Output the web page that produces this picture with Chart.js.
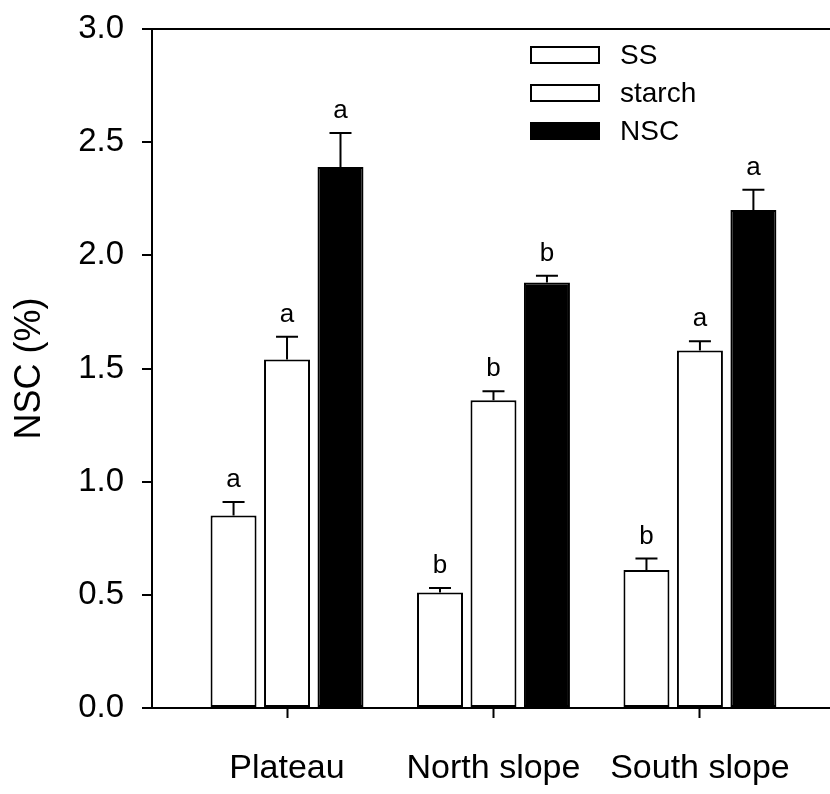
<!DOCTYPE html>
<html>
<head>
<meta charset="utf-8">
<script src="https://cdn.jsdelivr.net/npm/chart.js@4"></script>
<style>
  body { margin: 0; background: #fff; }
  #wrap { width: 830px; height: 794px; }
</style>
</head>
<body>
<div id="wrap"><canvas id="nsc-chart"></canvas></div>
<script>
var categories = ['Plateau', 'North slope', 'South slope'];
var seriesNames = ['SS', 'starch', 'NSC'];

var ssValues = [0.85, 0.51, 0.61];
var ssErrors = [0.06, 0.02, 0.05];
var ssLetters = ['a', 'b', 'b'];

var starchValues = [1.54, 1.36, 1.58];
var starchErrors = [0.10, 0.04, 0.04];
var starchLetters = ['a', 'b', 'a'];

var nscValues = [2.39, 1.88, 2.20];
var nscErrors = [0.15, 0.03, 0.09];
var nscLetters = ['a', 'b', 'a'];

var yTicks = [0, 0.5, 1.0, 1.5, 2.0, 2.5, 3.0];

var FONT = "'Liberation Sans', Arial, sans-serif";

function points(values) {
  return values.map(function (v, i) { return { x: i + 1, y: v }; });
}

function makeSet(label, values, errors, letters, fill) {
  return {
    label: label,
    data: points(values),
    errors: errors,
    letters: letters,
    backgroundColor: fill,
    borderColor: '#000',
    borderWidth: 2,
    borderSkipped: false,
    categoryPercentage: 0.777,
    barPercentage: 0.86
  };
}

// error bars (upper only) and significance letters
var errorBars = {
  id: 'errorBars',
  afterDatasetsDraw: function (chart) {
    var ctx = chart.ctx;
    var y = chart.scales.y;
    ctx.save();
    ctx.strokeStyle = '#000';
    ctx.lineWidth = 2;
    ctx.fillStyle = '#000';
    ctx.font = '26px ' + FONT;
    ctx.textAlign = 'center';
    ctx.textBaseline = 'alphabetic';
    chart.data.datasets.forEach(function (ds, di) {
      var meta = chart.getDatasetMeta(di);
      meta.data.forEach(function (bar, i) {
        var top = y.getPixelForValue(ds.data[i].y);
        var cap = y.getPixelForValue(ds.data[i].y + ds.errors[i]);
        ctx.beginPath();
        ctx.moveTo(bar.x, top);
        ctx.lineTo(bar.x, cap);
        ctx.moveTo(bar.x - 11, cap);
        ctx.lineTo(bar.x + 11, cap);
        ctx.stroke();
        ctx.fillText(ds.letters[i], bar.x, cap - 15);
      });
    });
    ctx.restore();
  }
};

// legend box in the upper right of the plot
var boxLegend = {
  id: 'boxLegend',
  afterDraw: function (chart) {
    var ctx = chart.ctx;
    ctx.save();
    ctx.font = '28px ' + FONT;
    ctx.textBaseline = 'middle';
    ctx.textAlign = 'left';
    chart.data.datasets.forEach(function (ds, i) {
      var cy = 55 + i * 38;
      ctx.fillStyle = ds.backgroundColor;
      ctx.fillRect(530, cy - 9, 70, 18);
      ctx.strokeStyle = '#000';
      ctx.lineWidth = 2;
      ctx.strokeRect(531, cy - 8, 68, 16);
      ctx.fillStyle = '#000';
      ctx.fillText(ds.label, 620, cy + 1);
    });
    ctx.restore();
  }
};

var ctx = document.getElementById('nsc-chart');
new Chart(ctx, {
  type: 'bar',
  data: {
    datasets: [
      makeSet(seriesNames[0], ssValues, ssErrors, ssLetters, '#fff'),
      makeSet(seriesNames[1], starchValues, starchErrors, starchLetters, '#fff'),
      makeSet(seriesNames[2], nscValues, nscErrors, nscLetters, '#000')
    ]
  },
  options: {
    responsive: true,
    maintainAspectRatio: false,
    animation: false,
    layout: { padding: { top: 29, left: 0, right: 0, bottom: 0 } },
    plugins: {
      legend: { display: false },
      tooltip: { enabled: false }
    },
    scales: {
      x: {
        type: 'linear',
        min: 0.346,
        max: 3.63,
        offset: false,
        afterBuildTicks: function (scale) {
          scale.ticks = categories.map(function (c, i) { return { value: i + 1 }; });
        },
        afterFit: function (scale) {
          scale.height = 86;
          scale.paddingLeft = 0;
          scale.paddingRight = 0;
        },
        ticks: {
          autoSkip: false,
          maxRotation: 0,
          padding: 30,
          color: '#000',
          font: { family: FONT, size: 34 },
          callback: function (v) { return categories[v - 1]; }
        },
        grid: {
          offset: false,
          drawOnChartArea: false,
          tickLength: 10,
          tickWidth: 2,
          tickColor: '#000'
        },
        border: { color: '#000', width: 2 }
      },
      y: {
        min: 0,
        max: 3,
        afterBuildTicks: function (scale) {
          scale.ticks = yTicks.map(function (v) { return { value: v }; });
        },
        afterFit: function (scale) {
          scale.width = 152;
          scale.paddingTop = 0;
          scale.paddingBottom = 0;
        },
        ticks: {
          padding: 18,
          color: '#000',
          font: { family: FONT, size: 33 },
          callback: function (v) { return v.toFixed(1); }
        },
        grid: {
          color: function (c) { return c.tick && c.tick.value === 3 ? '#000' : 'rgba(0,0,0,0)'; },
          lineWidth: 2,
          tickLength: 10,
          tickWidth: 2,
          tickColor: '#000'
        },
        border: { color: '#000', width: 2 },
        title: {
          display: true,
          text: 'NSC (%)',
          color: '#000',
          padding: { top: 8, bottom: 0 },
          font: { family: FONT, size: 36 }
        }
      }
    }
  },
  plugins: [errorBars, boxLegend]
});
</script>
</body>
</html>
